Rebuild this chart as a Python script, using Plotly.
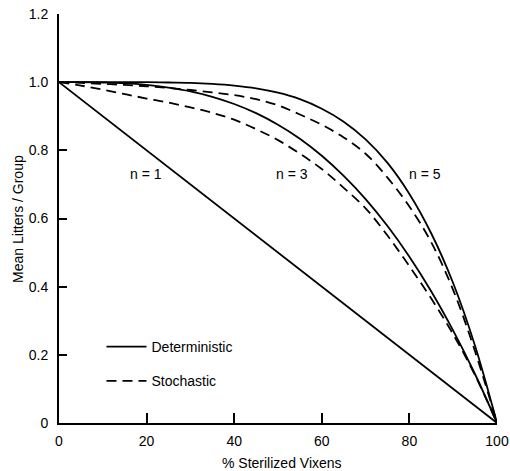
import plotly.graph_objects as go

# % sterilized vixens
x_pct = [0, 5, 10, 15, 20, 25, 30, 35, 40, 45, 50, 55, 60, 65, 70, 75, 80, 85, 90, 95, 100]

# Deterministic curves
det_n1 = [1.0, 0.95, 0.90, 0.85, 0.80, 0.75, 0.70, 0.65, 0.60, 0.55, 0.50, 0.45, 0.40, 0.35, 0.30, 0.25, 0.20, 0.15, 0.10, 0.05, 0.0]
det_n3 = [1.0, 1.0, 0.999, 0.997, 0.992, 0.984, 0.973, 0.957, 0.936, 0.909, 0.875, 0.834, 0.784, 0.725, 0.657, 0.578, 0.488, 0.386, 0.271, 0.143, 0.0]
det_n5 = [1.0, 1.0, 1.0, 1.0, 1.0, 0.999, 0.998, 0.995, 0.990, 0.982, 0.969, 0.950, 0.922, 0.884, 0.832, 0.763, 0.672, 0.556, 0.410, 0.226, 0.0]

# Stochastic curves
sto_n3 = [1.0, 0.99, 0.978, 0.965, 0.952, 0.94, 0.926, 0.91, 0.89, 0.862, 0.83, 0.79, 0.745, 0.69, 0.63, 0.55, 0.46, 0.365, 0.26, 0.14, 0.0]
sto_n5 = [1.0, 0.998, 0.995, 0.992, 0.988, 0.983, 0.977, 0.97, 0.962, 0.95, 0.932, 0.905, 0.875, 0.838, 0.79, 0.72, 0.635, 0.53, 0.39, 0.21, 0.0]

y_ticks = [0, 0.2, 0.4, 0.6, 0.8, 1.0, 1.2]
y_tick_text = ["0", "0.2", "0.4", "0.6", "0.8", "1.0", "1.2"]
x_ticks = [0, 20, 40, 60, 80, 100]

curve_labels = ["n = 1", "n = 3", "n = 5"]
label_x = [19.8, 53.2, 83.6]
label_y = [0.73, 0.73, 0.73]

x_title = "% Sterilized Vixens"
y_title = "Mean Litters / Group"

FONT = "Liberation Sans, Arial, Helvetica, sans-serif"
FS = 14
LW = 1.8
DASH = "10px,6px"

fig = go.Figure()

fig.add_trace(go.Scatter(x=x_pct, y=det_n1, mode="lines", name="Deterministic",
                         legendgroup="det", showlegend=True,
                         line=dict(color="black", width=LW)))
fig.add_trace(go.Scatter(x=x_pct, y=det_n3, mode="lines", name="Deterministic",
                         legendgroup="det", showlegend=False, line_shape="spline",
                         line=dict(color="black", width=LW)))
fig.add_trace(go.Scatter(x=x_pct, y=det_n5, mode="lines", name="Deterministic",
                         legendgroup="det", showlegend=False, line_shape="spline",
                         line=dict(color="black", width=LW)))
fig.add_trace(go.Scatter(x=x_pct, y=sto_n3, mode="lines", name="Stochastic",
                         legendgroup="sto", showlegend=True, line_shape="spline",
                         line=dict(color="black", width=LW, dash=DASH)))
fig.add_trace(go.Scatter(x=x_pct, y=sto_n5, mode="lines", name="Stochastic",
                         legendgroup="sto", showlegend=False, line_shape="spline",
                         line=dict(color="black", width=LW, dash=DASH)))

for t, lx, ly in zip(curve_labels, label_x, label_y):
    fig.add_annotation(x=lx, y=ly, text=t, showarrow=False,
                       font=dict(family=FONT, size=FS, color="black"))

# axis titles
fig.add_annotation(xref="paper", yref="paper", x=0.508, y=-0.098, text=x_title,
                   showarrow=False, xanchor="center", yanchor="middle",
                   font=dict(family=FONT, size=FS, color="black"))
fig.add_annotation(xref="paper", yref="paper", x=-0.095, y=0.5, text=y_title,
                   showarrow=False, xanchor="center", yanchor="middle", textangle=-90,
                   font=dict(family=FONT, size=FS, color="black"))

fig.update_layout(
    width=510, height=471,
    margin=dict(l=59, r=13, t=14, b=48),
    plot_bgcolor="white", paper_bgcolor="white",
    font=dict(family=FONT, size=FS, color="black"),
    showlegend=True,
    legend=dict(x=0.097, y=0.225, xanchor="left", yanchor="top",
                bgcolor="rgba(0,0,0,0)", tracegroupgap=13,
                font=dict(family=FONT, size=FS, color="black"),
                itemwidth=40),
)
fig.update_xaxes(range=[0, 100], tickvals=x_ticks, ticks="inside", ticklen=10,
                 tickwidth=1.5, tickcolor="black", showline=True, linecolor="black",
                 linewidth=1.8, showgrid=False, zeroline=False, automargin=False,
                 ticklabelstandoff=4, ticklabeloverflow="allow")
fig.update_yaxes(range=[0, 1.2], tickvals=y_ticks, ticktext=y_tick_text,
                 ticks="inside", ticklen=8, tickwidth=1.5, tickcolor="black",
                 showline=True, linecolor="black", linewidth=1.8, showgrid=False,
                 zeroline=False, ticklabelstandoff=6, automargin=False,
                 ticklabeloverflow="allow")

fig.write_html("out.html", config={"displayModeBar": False},
               post_script="document.body.style.margin='0';document.body.style.padding='0';")
